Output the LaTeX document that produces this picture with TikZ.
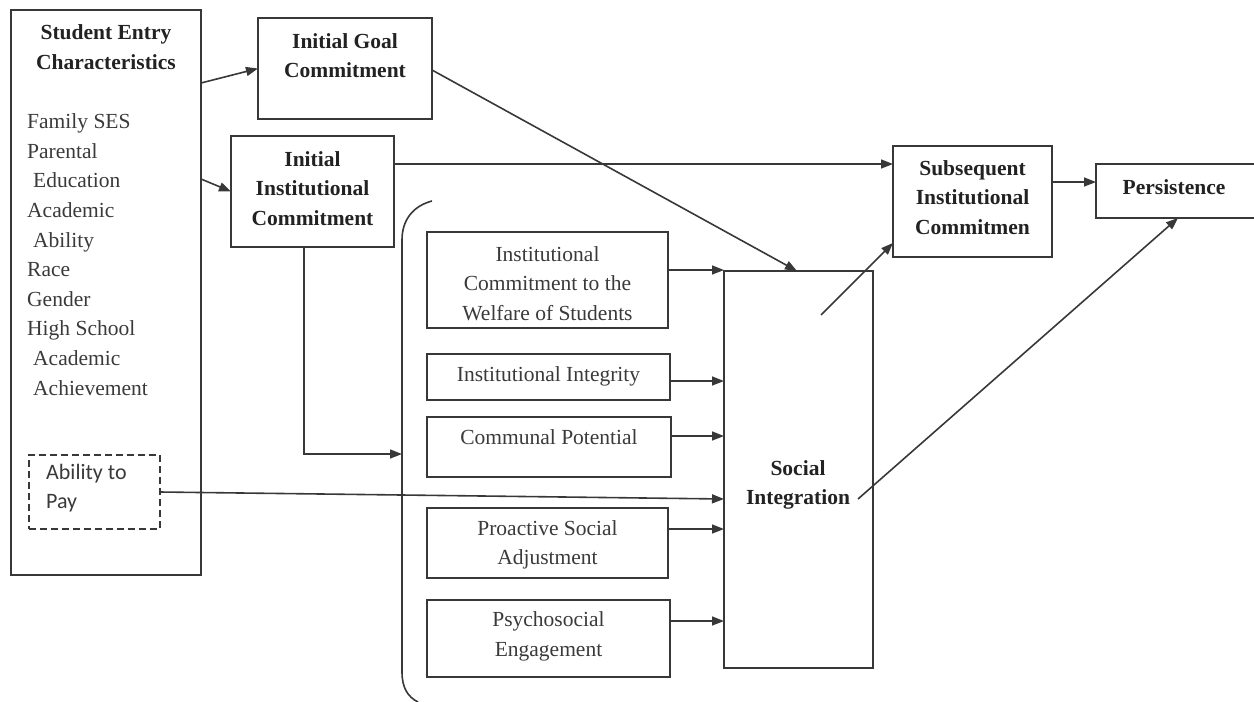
\documentclass[tikz,border=0pt]{standalone}
\usepackage{fontspec}
\setmainfont{Liberation Serif}
\newfontfamily\sansf{Carlito}
\usetikzlibrary{arrows.meta,calc}
\definecolor{lnc}{HTML}{383838}
\definecolor{txc}{HTML}{3A3A3A}
\definecolor{btc}{HTML}{222222}
\begin{document}
\begin{tikzpicture}[x=1pt,y=-1pt,
  box/.style={draw=lnc, line width=1.8pt, inner sep=0pt, outer sep=0pt, anchor=center},
  hd/.style={font=\fontsize{21.5}{29.6}\selectfont\bfseries, text=btc, align=center, inner sep=0pt},
  tt/.style={font=\fontsize{21.5}{29.6}\selectfont, text=txc, align=center, inner sep=0pt},
  arr/.style={draw=lnc, line width=1.6pt, -{Triangle[length=12pt,width=9pt]}},
  plain/.style={draw=lnc, line width=1.6pt}]
\useasboundingbox (0,0) rectangle (1254,702);
% boxes
\node[box, minimum width=190pt, minimum height=565pt] (sec) at (106,292.5) {};
\node[box, minimum width=174pt, minimum height=101pt] (igc) at (345,68.5) {};
\node[box, minimum width=163pt, minimum height=111pt] (iic) at (312.5,191.5) {};
\node[box, minimum width=159pt, minimum height=111pt] (sub) at (972.5,201.5) {};
\node[box, minimum width=162pt, minimum height=54pt] (per) at (1177,191) {};
\node[box, minimum width=241pt, minimum height=96pt] (icws) at (547.5,280) {};
\node[box, minimum width=243pt, minimum height=46pt] (ii) at (548.5,377) {};
\node[box, minimum width=244pt, minimum height=60pt] (cp) at (549,447) {};
\node[box, minimum width=241pt, minimum height=70pt] (psa) at (547.5,543) {};
\node[box, minimum width=243pt, minimum height=77pt] (pe) at (548.5,638.5) {};
\node[box, minimum width=149pt, minimum height=397pt] (si) at (798.5,469.5) {};
\node[box, dashed, dash pattern=on 7pt off 4pt, minimum width=131pt, minimum height=74pt] (atp) at (94.5,492) {};
% texts
\node[hd] (secT) at (106,47) {Student Entry\\Characteristics};
\node[tt, align=left, anchor=north west] (secL) at (27,113.5) {Family SES\\Parental\\\hspace*{6pt}Education\\Academic\\\hspace*{6pt}Ability\\Race\\Gender\\High School\\\hspace*{6pt}Academic\\\hspace*{6pt}Achievement};
\node[hd] (igcT) at (345,55.5) {Initial Goal\\Commitment};
\node[hd] (iicT) at (312.5,188.5) {Initial\\Institutional\\Commitment};
\node[hd] (subT) at (972.5,197.5) {Subsequent\\Institutional\\Commitmen};
\node[hd] (perT) at (1174,187) {Persistence};
\node[tt] (icwsT) at (547.5,283.5) {Institutional\\Commitment to the\\Welfare of Students};
\node[tt] (iiT) at (548.5,376.5) {Institutional Integrity};
\node[tt] (cpT) at (549,437) {Communal Potential};
\node[tt] (psaT) at (547.5,545) {Proactive Social\\Adjustment};
\node[tt] (peT) at (548.5,636.5) {Psychosocial\\Engagement};
\node[hd] (siT) at (798,485) {Social\\Integration};
\node[tt, align=left, anchor=north west, font=\fontsize{22}{29.5}\sansf] (atpT) at (46,464) {Ability to\\Pay};
% bracket
\draw[plain] (432,201) .. controls (413,206) and (402,220) .. (402,240) -- (402,672) .. controls (402,688) and (408,697) .. (418,702);
\coordinate (brk) at (402,454);
% connectors
\draw[arr] ($(sec.north east)+(0,73)$) -- (igc.west);
\draw[arr] ($(sec.north east)+(0,169)$) -- (iic.west);
\draw[arr] ($(iic.south)+(-8.5,0)$) |- (brk);
\coordinate (c0) at ($(iic.north east)+(0,28)$);
\draw[arr] (c0) -- (c0 -| sub.west);
\draw[arr] ($(igc.north east)+(0,52)$) -- ($(si.north west)+(73,0)$);
\coordinate (c1) at ($(icws.north east)+(0,38)$);
\draw[arr] (c1) -- (c1 -| si.west);
\coordinate (c2) at ($(ii.north east)+(0,27)$);
\draw[arr] (c2) -- (c2 -| si.west);
\coordinate (c3) at ($(cp.north east)+(0,19)$);
\draw[arr] (c3) -- (c3 -| si.west);
\draw[arr] (atp.east) -- ($(si.west)+(0,29.5)$);
\coordinate (c4) at ($(psa.north east)+(0,21)$);
\draw[arr] (c4) -- (c4 -| si.west);
\coordinate (c5) at ($(pe.north east)+(0,21)$);
\draw[arr] (c5) -- (c5 -| si.west);
\draw[arr] ($(si.north west)+(97,44)$) -- ($(sub.south west)+(0,-14)$);
\draw[arr] ($(si.west)+(134,29.5)$) -- ($(per.south west)+(82,0)$);
\coordinate (c6) at ($(sub.north east)+(0,36)$);
\draw[arr] (c6) -- (c6 -| per.west);
\end{tikzpicture}
\end{document}
